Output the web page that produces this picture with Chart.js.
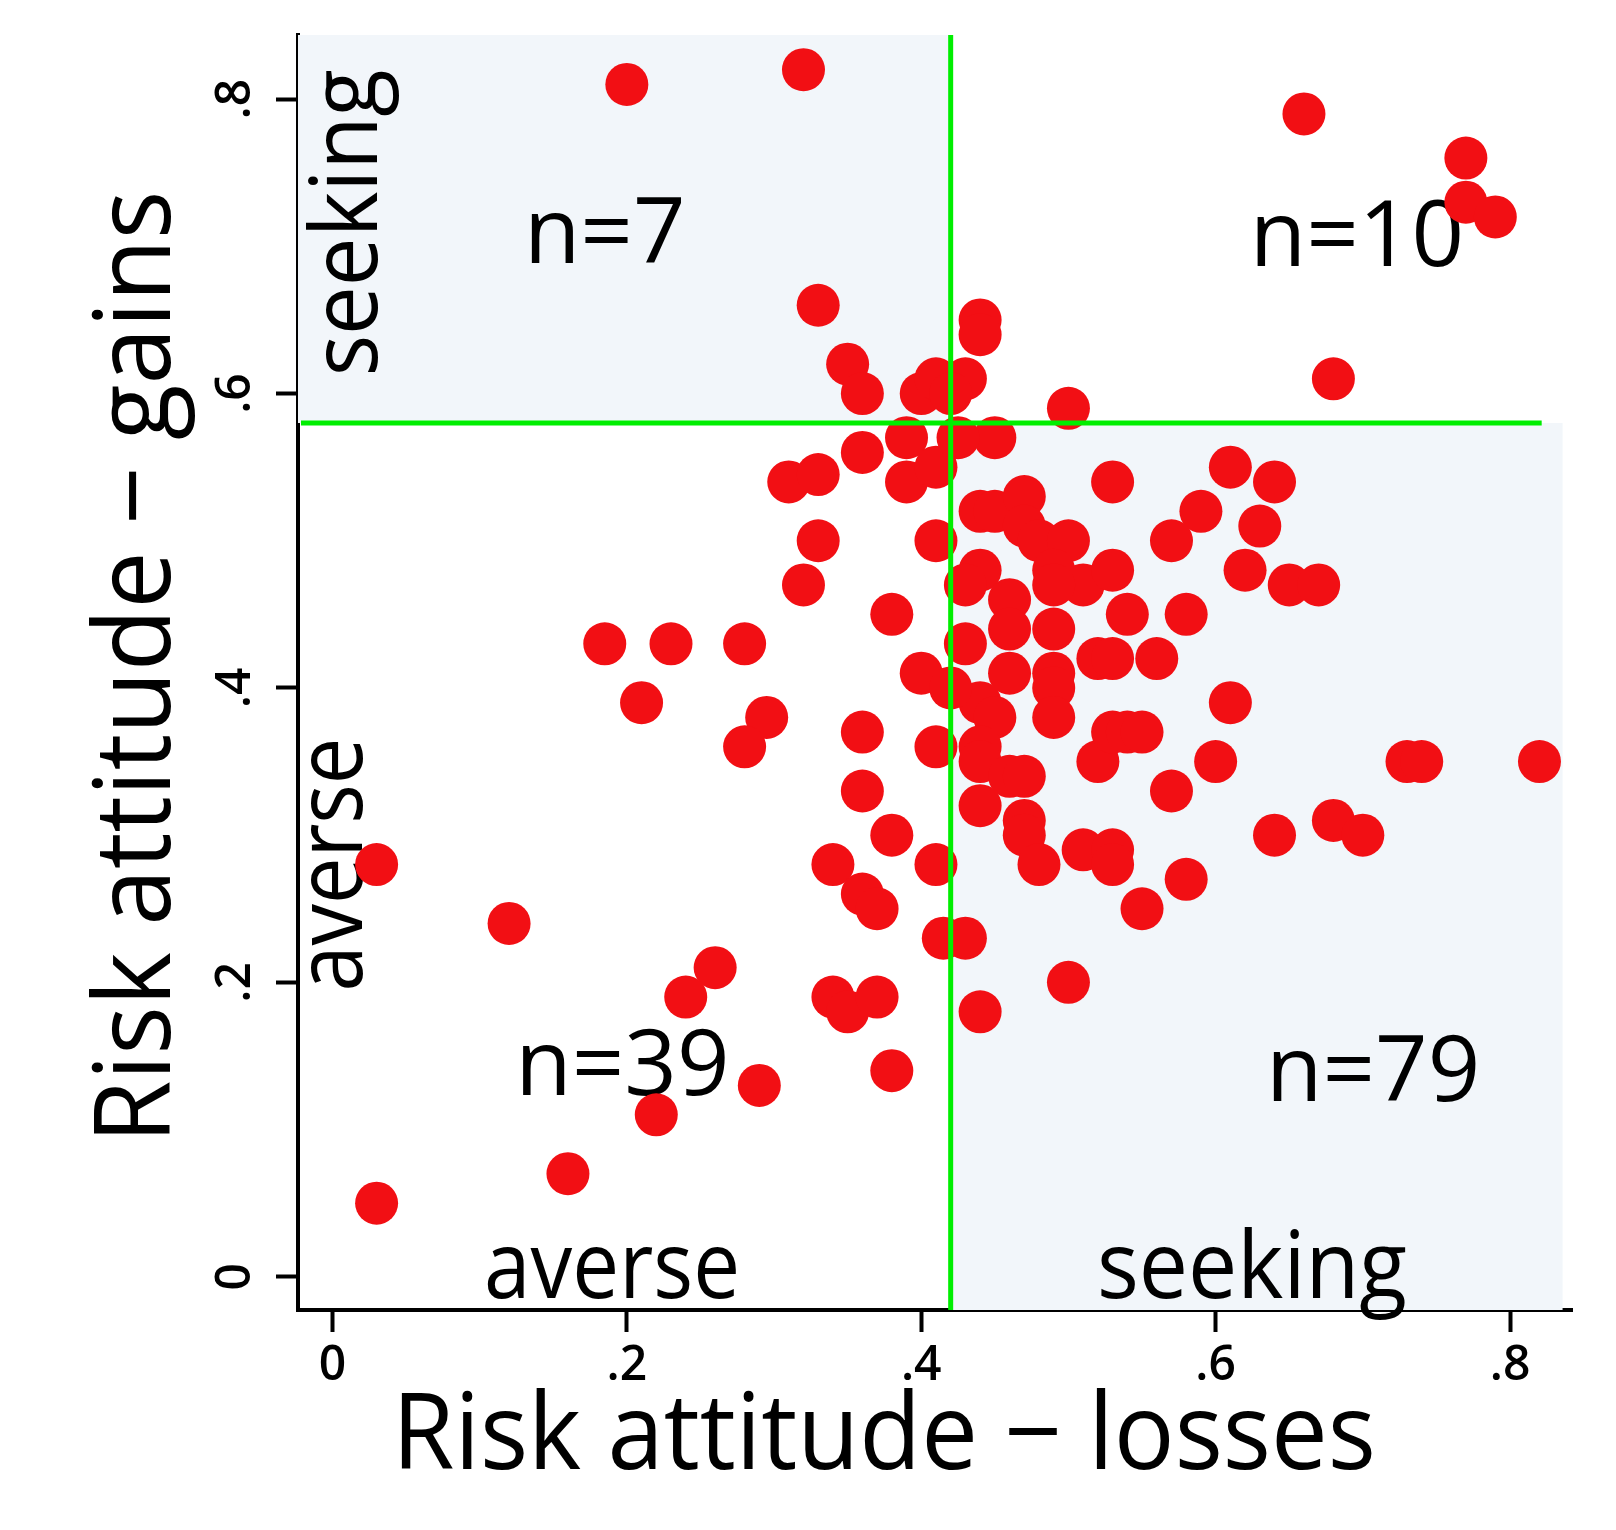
<!DOCTYPE html>
<html>
<head>
<meta charset="utf-8">
<script src="https://cdn.jsdelivr.net/npm/chart.js@4.4.1/dist/chart.umd.min.js"></script>
<style>
    html, body { margin: 0; padding: 0; background: #fff; }
    canvas { display: block; }
</style>
</head>
<body>
<canvas id="riskChart" width="1616" height="1530"></canvas>
<script>
// Risk attitude per subject: losses domain (x) and gains domain (y)
const losses = [
    0.20, 0.32, 0.33, 0.35, 0.36, 0.40, 0.41,
    0.66, 0.77, 0.77, 0.79, 0.68, 0.50, 0.44, 0.44, 0.43, 0.42,
    0.185, 0.23, 0.21, 0.03, 0.28, 0.295, 0.28, 0.31, 0.33, 0.36, 0.39, 0.39, 0.41,
    0.33, 0.32, 0.38, 0.41, 0.40, 0.36, 0.41, 0.36, 0.38, 0.34, 0.41, 0.36, 0.37,
    0.415, 0.34, 0.35, 0.37, 0.38, 0.29, 0.26, 0.12, 0.24, 0.22, 0.16, 0.03,
    0.61, 0.64, 0.59, 0.57, 0.63, 0.62, 0.65, 0.67, 0.58, 0.56, 0.61, 0.60, 0.73,
    0.74, 0.82, 0.57, 0.64, 0.68, 0.70, 0.58, 0.53, 0.44, 0.45, 0.47, 0.47, 0.48,
    0.50, 0.49, 0.51, 0.53, 0.44, 0.43, 0.46, 0.49, 0.49, 0.46, 0.54, 0.52, 0.53,
    0.43, 0.46, 0.49, 0.49, 0.49, 0.44, 0.45, 0.44, 0.44, 0.46, 0.47, 0.44, 0.47,
    0.47, 0.48, 0.51, 0.53, 0.53, 0.52, 0.53, 0.54, 0.55, 0.55, 0.50, 0.44, 0.43,
    0.45, 0.425, 0.42
];
const gains = [
    0.81, 0.82, 0.66, 0.62, 0.60, 0.60, 0.61,
    0.79, 0.76, 0.73, 0.72, 0.61, 0.59, 0.65, 0.64, 0.61, 0.60,
    0.43, 0.43, 0.39, 0.28, 0.43, 0.38, 0.36, 0.54, 0.545, 0.56, 0.57, 0.54, 0.55,
    0.50, 0.47, 0.45, 0.50, 0.41, 0.37, 0.36, 0.33, 0.30, 0.28, 0.28, 0.26, 0.25,
    0.23, 0.19, 0.18, 0.19, 0.14, 0.13, 0.21, 0.24, 0.19, 0.11, 0.07, 0.05,
    0.55, 0.54, 0.52, 0.50, 0.51, 0.48, 0.47, 0.47, 0.45, 0.42, 0.39, 0.35, 0.35,
    0.35, 0.35, 0.33, 0.30, 0.31, 0.30, 0.27, 0.54, 0.52, 0.52, 0.53, 0.51, 0.50,
    0.50, 0.48, 0.47, 0.48, 0.48, 0.47, 0.46, 0.47, 0.44, 0.44, 0.45, 0.42, 0.42,
    0.43, 0.41, 0.41, 0.40, 0.38, 0.39, 0.38, 0.36, 0.35, 0.34, 0.34, 0.32, 0.31,
    0.30, 0.28, 0.29, 0.29, 0.28, 0.35, 0.37, 0.37, 0.37, 0.25, 0.20, 0.18, 0.23,
    0.57, 0.57, 0.40
];

const tickValues = [0, 0.2, 0.4, 0.6, 0.8];
const tickLabels = ['0', '.2', '.4', '.6', '.8'];

// quadrant split and counts
const splitLoss = 0.42;
const splitGain = 0.58;
const quadrantCounts = ['n=7', 'n=10', 'n=39', 'n=79'];

const FONT = '"Open Sans", "Noto Sans", sans-serif';
const dotColor = '#f20f14';
const lineGreen = '#00ee00';
const shade = '#f2f6fa';

// draws centred text; optional rotation and target width (squeezed horizontally)
function drawText(ctx, text, x, y, size, rotate, width, weight) {
    ctx.save();
    ctx.translate(x, y);
    if (rotate) ctx.rotate(-Math.PI / 2);
    ctx.font = (weight || 'normal') + ' ' + size + 'px ' + FONT;
    if (width) {
        const w = ctx.measureText(text).width;
        ctx.scale(width / w, 1);
    }
    ctx.fillStyle = '#000';
    ctx.textAlign = 'center';
    ctx.textBaseline = 'alphabetic';
    ctx.fillText(text, 0, 0);
    ctx.restore();
}

const quadrantPlugin = {
    id: 'quadrants',
    beforeDatasetsDraw(chart) {
        const { ctx, chartArea: a, scales: { x, y } } = chart;
        const sx = x.getPixelForValue(splitLoss);
        const sy = y.getPixelForValue(splitGain);
        const right = x.getPixelForValue(0.8357);
        ctx.save();
        ctx.fillStyle = shade;
        ctx.fillRect(a.left, a.top, sx - a.left, sy - a.top);
        ctx.fillRect(sx, sy, right - sx, a.bottom - sy);
        ctx.restore();

        // corner labels
        drawText(ctx, quadrantCounts[0], x.getPixelForValue(0.185), y.getPixelForValue(0.6887), 92);
        drawText(ctx, quadrantCounts[1], x.getPixelForValue(0.696), y.getPixelForValue(0.687), 92);
        drawText(ctx, quadrantCounts[2], x.getPixelForValue(0.197), y.getPixelForValue(0.1234), 92);
        drawText(ctx, quadrantCounts[3], x.getPixelForValue(0.707), y.getPixelForValue(0.1196), 92);
        drawText(ctx, 'averse', x.getPixelForValue(0.19), a.bottom - 12, 94, false, 256);
        drawText(ctx, 'seeking', x.getPixelForValue(0.6247), a.bottom - 12, 94, false, 310);
        drawText(ctx, 'seeking', 377, y.getPixelForValue(0.716), 94, true, 307);
        drawText(ctx, 'averse', 362, y.getPixelForValue(0.28), 94, true, 254);
    },
    afterDatasetsDraw(chart) {
        const { ctx, chartArea: a, scales: { x, y } } = chart;
        const sx = x.getPixelForValue(splitLoss);
        const sy = y.getPixelForValue(splitGain);
        ctx.save();
        ctx.strokeStyle = lineGreen;
        ctx.lineWidth = 5;
        ctx.beginPath();
        ctx.moveTo(a.left + 3, sy);
        ctx.lineTo(x.getPixelForValue(0.8215), sy);
        ctx.moveTo(sx, a.top);
        ctx.lineTo(sx, a.bottom);
        ctx.stroke();
        ctx.restore();

        // rotated y tick labels
        tickValues.forEach((v, i) => {
            drawText(ctx, tickLabels[i], 250, y.getPixelForValue(v), 48, true, 0, 600);
        });

        // axis titles
        drawText(ctx, 'Risk attitude \u2212 losses', 884, 1469, 106, false, 984);
        drawText(ctx, 'Risk attitude \u2212 gains', 170, 667, 106, true, 953);
    }
};

new Chart(document.getElementById('riskChart'), {
    type: 'scatter',
    data: {
        datasets: [{
            data: losses.map((v, i) => ({ x: v, y: gains[i] })),
            backgroundColor: dotColor,
            borderWidth: 0,
            pointRadius: 21.5,
            pointHoverRadius: 21.5
        }]
    },
    options: {
        responsive: false,
        animation: false,
        events: [],
        layout: { padding: { left: 0, top: 35, right: 44, bottom: 0 } },
        plugins: { legend: { display: false }, tooltip: { enabled: false } },
        scales: {
            x: {
                type: 'linear',
                min: -0.0234,
                max: 0.8421,
                afterFit(scale) { scale.height = 220; },
                afterBuildTicks(scale) { scale.ticks = tickValues.map(v => ({ value: v })); },
                border: { display: true, color: '#000', width: 4 },
                grid: { drawOnChartArea: false, drawTicks: true, tickLength: 22, tickWidth: 4, tickColor: '#000' },
                ticks: {
                    autoSkip: false,
                    maxRotation: 0,
                    padding: 6,
                    color: '#000',
                    font: { family: FONT, size: 48, weight: 600 },
                    callback: (value, index) => tickLabels[index]
                }
            },
            y: {
                type: 'linear',
                min: -0.0226,
                max: 0.8436,
                afterFit(scale) { scale.width = 298; },
                afterBuildTicks(scale) { scale.ticks = tickValues.map(v => ({ value: v })); },
                border: { display: true, color: '#000', width: 4 },
                grid: { drawOnChartArea: false, drawTicks: true, tickLength: 22, tickWidth: 4, tickColor: '#000' },
                ticks: { display: false }
            }
        }
    },
    plugins: [quadrantPlugin]
});
</script>
</body>
</html>
